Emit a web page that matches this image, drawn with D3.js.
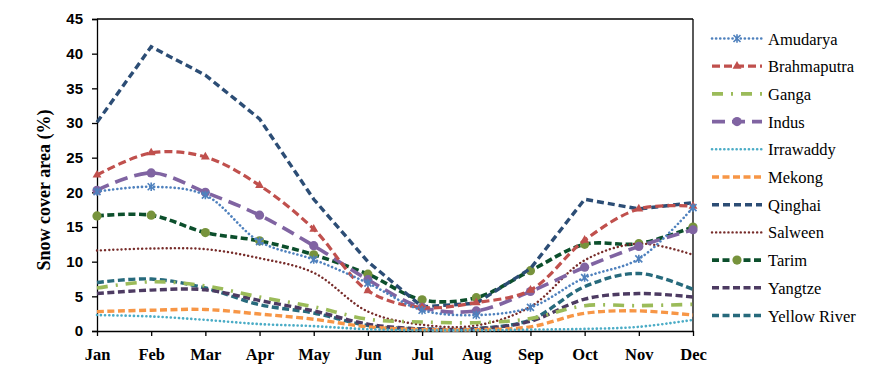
<!DOCTYPE html>
<html>
<head>
<meta charset="utf-8">
<script src="https://cdn.jsdelivr.net/npm/d3@7"></script>
<style>
  body { margin: 0; background: #fff; }
  svg { display: block; font-family: "Liberation Serif", "Times New Roman", serif; }
</style>
</head>
<body>
<svg id="chart"></svg>
<script>
const width = 888;
const height = 375;
const margin = { left: 97, right: 195, top: 19, bottom: 44 };

// data
const months = ['Jan', 'Feb', 'Mar', 'Apr', 'May', 'Jun', 'Jul', 'Aug', 'Sep', 'Oct', 'Nov', 'Dec'];
const yTicks = [0, 5, 10, 15, 20, 25, 30, 35, 40, 45];
const basins = ['Amudarya', 'Brahmaputra', 'Ganga', 'Indus', 'Irrawaddy', 'Mekong', 'Qinghai', 'Salween', 'Tarim', 'Yangtze', 'Yellow River'];

const amudarya    = [20.1, 20.8, 19.6, 12.9, 10.3, 6.9, 3.0, 2.3, 3.4, 7.7, 10.4, 17.8];
const brahmaputra = [22.5, 25.7, 25.1, 21.0, 14.7, 5.8, 3.4, 4.1, 5.9, 13.1, 17.6, 18.0];
const ganga       = [6.2, 7.1, 6.5, 4.9, 3.5, 1.7, 1.3, 1.2, 1.8, 3.65, 3.65, 3.85];
const indus       = [20.3, 22.8, 20.0, 16.7, 12.3, 7.4, 3.4, 2.9, 5.7, 9.2, 12.2, 14.6];
const irrawaddy   = [2.3, 2.1, 1.6, 1.0, 0.7, 0.25, 0.1, 0.1, 0.2, 0.3, 0.6, 1.6];
const mekong      = [2.8, 3.0, 3.1, 2.45, 1.7, 0.6, 0.2, 0.2, 0.6, 2.55, 2.9, 2.3];
const qinghai     = [30.1, 41.0, 36.9, 30.6, 19.0, 10.0, 3.5, 4.0, 9.0, 19.0, 17.6, 18.5];
const salween     = [11.6, 11.9, 11.8, 10.5, 8.4, 2.8, 0.9, 0.8, 3.5, 10.2, 12.6, 11.0];
const tarim       = [16.6, 16.7, 14.2, 13.0, 11.0, 8.2, 4.5, 4.8, 8.7, 12.5, 12.6, 15.0];
const yangtze     = [5.4, 5.9, 5.95, 4.4, 2.9, 1.0, 0.3, 0.3, 1.4, 4.6, 5.4, 4.9];
const yellowRiver = [7.0, 7.5, 6.2, 3.8, 2.6, 0.8, 0.3, 0.35, 1.6, 6.4, 8.3, 6.0];

const values = [amudarya, brahmaputra, ganga, indus, irrawaddy, mekong, qinghai, salween, tarim, yangtze, yellowRiver];

// styles per basin
const styles = [
  { color: '#4F81BD', dash: '0.1,4', w: 2.6, cap: 'round', marker: 'asterisk' },
  { color: '#C0504D', dash: '8,4', w: 3.2, cap: 'butt', marker: 'triangle' },
  { color: '#9BBB59', dash: '11,8,2,8', w: 3.6, cap: 'butt', marker: null },
  { color: '#8064A2', dash: '13,7', w: 3.6, cap: 'butt', marker: 'circle' },
  { color: '#4BACC6', dash: '0.1,4', w: 2.6, cap: 'round', marker: null },
  { color: '#F79646', dash: '7,3.5', w: 3.4, cap: 'butt', marker: null },
  { color: '#2C4D75', dash: '7,4', w: 3.4, cap: 'butt', marker: null, straight: true },
  { color: '#772C2A', dash: '0.1,4', w: 2.4, cap: 'round', marker: null },
  { color: '#0C4F2C', dash: '7,3.5', w: 3.6, cap: 'butt', marker: 'circle', markerColor: '#77933C' },
  { color: '#4D3B62', dash: '7,3.5', w: 3.4, cap: 'butt', marker: null },
  { color: '#276A7C', dash: '7,3.5', w: 3.4, cap: 'butt', marker: null }
];

const svg = d3.select('svg#chart').attr('width', width).attr('height', height);

const visWidth = width - margin.left - margin.right;
const visHeight = height - margin.top - margin.bottom;

const g = svg.append('g').attr('transform', 'translate(' + margin.left + ',' + margin.top + ')');

const xScale = d3.scalePoint().domain(months).range([0, visWidth]);
const yScale = d3.scaleLinear().domain([0, 45]).range([visHeight, 0]);

// frame top and right
g.append('line').attr('x1', 0).attr('x2', visWidth).attr('y1', 0).attr('y2', 0)
  .attr('stroke', '#000').attr('stroke-width', 1.3);
g.append('line').attr('x1', visWidth).attr('x2', visWidth).attr('y1', 0).attr('y2', visHeight)
  .attr('stroke', '#000').attr('stroke-width', 1.3);

// axes
const yAxis = g.append('g').call(d3.axisLeft(yScale).tickValues(yTicks).tickSize(5).tickPadding(9));
yAxis.attr('font-family', null).attr('font-size', null);
yAxis.selectAll('text')
  .style('font-family', '"Liberation Sans", Arial, sans-serif')
  .style('font-weight', 'bold')
  .style('font-size', '15px')
  .attr('fill', '#000');

const xAxis = g.append('g').attr('transform', 'translate(0,' + visHeight + ')')
  .call(d3.axisBottom(xScale).tickSize(5).tickPadding(12).tickSizeOuter(0));
xAxis.attr('font-family', null).attr('font-size', null);
xAxis.selectAll('text')
  .style('font-family', '"Liberation Serif", "Times New Roman", serif')
  .style('font-weight', 'bold')
  .style('font-size', '16.5px')
  .attr('fill', '#000');

[yAxis, xAxis].forEach(a => {
  a.select('.domain').attr('stroke', '#000').attr('stroke-width', 1.3);
  a.selectAll('.tick line').attr('stroke', '#000').attr('stroke-width', 1.3);
});

// y title
svg.append('text')
  .attr('transform', 'translate(50,190) rotate(-90)')
  .attr('text-anchor', 'middle')
  .style('font-family', '"Liberation Serif", "Times New Roman", serif')
  .style('font-weight', 'bold')
  .style('font-size', '18px')
  .text('Snow cover area (%)');

function drawMarker(sel, type, color, x, y) {
  if (type === 'circle') {
    sel.append('circle').attr('cx', x).attr('cy', y).attr('r', 4.6).attr('fill', color);
  } else if (type === 'triangle') {
    sel.append('path').attr('transform', 'translate(' + x + ',' + y + ')')
      .attr('d', d3.symbol().type(d3.symbolTriangle).size(34)).attr('fill', color);
  } else if (type === 'asterisk') {
    sel.append('path').attr('transform', 'translate(' + x + ',' + y + ')')
      .attr('d', 'M-3.5,-3.5L3.5,3.5M-3.5,3.5L3.5,-3.5M0,-4.2L0,4.2')
      .attr('stroke', color).attr('stroke-width', 1.6).attr('fill', 'none');
  }
}

const lines = g.append('g');
const smooth = d3.line().x((d, i) => xScale(months[i])).y(d => yScale(d)).curve(d3.curveCatmullRom.alpha(0.5));
const straight = d3.line().x((d, i) => xScale(months[i])).y(d => yScale(d));

// draw in reverse so the first series sits on top
for (let k = basins.length - 1; k >= 0; k--) {
  const s = styles[k];
  lines.append('path')
    .datum(values[k])
    .attr('d', s.straight ? straight : smooth)
    .attr('fill', 'none')
    .attr('stroke', s.color)
    .attr('stroke-width', s.w)
    .attr('stroke-dasharray', s.dash)
    .attr('stroke-linecap', s.cap);
  if (s.marker) {
    const mg = lines.append('g');
    values[k].forEach((v, i) => drawMarker(mg, s.marker, s.markerColor || s.color, xScale(months[i]), yScale(v)));
  }
}

// legend
const legend = svg.append('g').attr('transform', 'translate(712,38.5)');
basins.forEach((name, k) => {
  const s = styles[k];
  const row = legend.append('g').attr('transform', 'translate(0,' + (k * 27.7) + ')');
  row.append('line').attr('x1', 0).attr('x2', 50).attr('y1', 0).attr('y2', 0)
    .attr('stroke', s.color).attr('stroke-width', s.w)
    .attr('stroke-dasharray', s.dash).attr('stroke-linecap', s.cap);
  if (s.marker) drawMarker(row, s.marker, s.markerColor || s.color, 25, 0);
  row.append('text').attr('x', 56).attr('y', 6)
    .attr('font-family', '"Liberation Serif", "Times New Roman", serif')
    .style('font-size', '16.5px')
    .attr('fill', '#000')
    .text(name);
});
</script>
</body>
</html>
